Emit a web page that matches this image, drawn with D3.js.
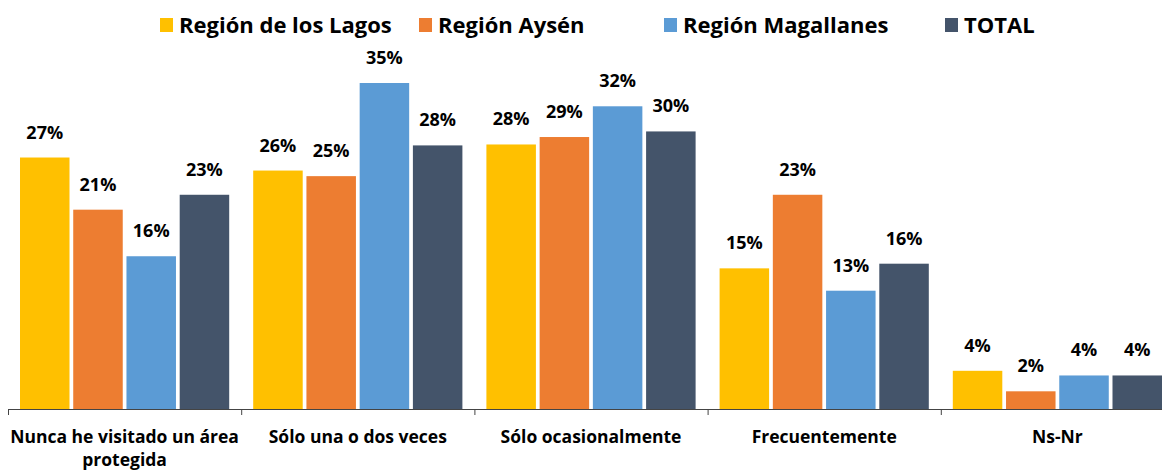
<!DOCTYPE html>
<html>
<head>
  <script src="https://cdn.jsdelivr.net/npm/d3@7"></script>
  <style>
    body { margin: 0; background: #fff; font-family: "Open Sans", Lato, sans-serif; }
  </style>
</head>
<body>
  <div id="chart"></div>
  <script>
    const categories = [
      ["Nunca he visitado un área", "protegida"],
      ["Sólo una o dos veces"],
      ["Sólo ocasionalmente"],
      ["Frecuentemente"],
      ["Ns-Nr"]
    ];
    const seriesNames = ["Región de los Lagos", "Región Aysén", "Región Magallanes", "TOTAL"];
    const colors = ["#FFC000", "#ED7D31", "#5B9BD5", "#44546A"];

    const lagos      = [27.0, 25.6, 28.4, 15.1, 4.1];
    const aysen      = [21.4, 25.0, 29.2, 23.0, 1.9];
    const magallanes = [16.4, 35.0, 32.5, 12.7, 3.6];
    const total      = [23.0, 28.3, 29.8, 15.6, 3.6];

    const lagosLabels      = ["27%", "26%", "28%", "15%", "4%"];
    const aysenLabels      = ["21%", "25%", "29%", "23%", "2%"];
    const magallanesLabels = ["16%", "35%", "32%", "13%", "4%"];
    const totalLabels      = ["23%", "28%", "30%", "16%", "4%"];

    const values = [lagos, aysen, magallanes, total];
    const labels = [lagosLabels, aysenLabels, magallanesLabels, totalLabels];

    const W = 1162, H = 470;
    const baseY = 409;

    const svg = d3.select("#chart").append("svg")
      .attr("width", W).attr("height", H);

    const x0 = d3.scaleBand()
      .domain(d3.range(categories.length))
      .range([8, 1174]);
    const x1 = d3.scaleBand()
      .domain(d3.range(seriesNames.length))
      .range([12, x0.bandwidth() - 12])
      .paddingInner(0.07);
    const y = d3.scaleLinear()
      .domain([0, 35])
      .range([baseY, 83]);

    // bars + labels
    values.forEach((vals, s) => {
      const g = svg.append("g");
      g.selectAll("rect")
        .data(vals)
        .join("rect")
          .attr("x", (d, i) => x0(i) + x1(s))
          .attr("y", d => y(d))
          .attr("width", x1.bandwidth())
          .attr("height", d => baseY - y(d))
          .attr("fill", colors[s]);
      g.selectAll("text")
        .data(vals)
        .join("text")
          .attr("x", (d, i) => x0(i) + x1(s) + x1.bandwidth() / 2)
          .attr("y", d => y(d) - 19)
          .attr("text-anchor", "middle")
          .attr("font-size", 18)
          .attr("font-weight", "bold")
          .attr("fill", "#000")
          .text((d, i) => labels[s][i]);
    });

    // x axis
    const axis = svg.append("g");
    axis.append("line")
      .attr("x1", 8).attr("x2", W)
      .attr("y1", baseY + 0.5).attr("y2", baseY + 0.5)
      .attr("stroke", "#444").attr("stroke-width", 1);
    axis.selectAll("line.tick")
      .data(d3.range(categories.length + 1))
      .join("line")
        .attr("class", "tick")
        .attr("x1", i => i < categories.length ? x0(i) + 0.5 : 1174)
        .attr("x2", i => i < categories.length ? x0(i) + 0.5 : 1174)
        .attr("y1", baseY).attr("y2", baseY + 6)
        .attr("stroke", "#444");
    const catText = axis.selectAll("text.cat")
      .data(categories)
      .join("text")
        .attr("class", "cat")
        .attr("x", (d, i) => x0(i) + x0.bandwidth() / 2)
        .attr("y", 443)
        .attr("text-anchor", "middle")
        .attr("font-size", 17.5)
        .attr("font-weight", "bold")
        .attr("fill", "#000");
    catText.selectAll("tspan")
      .data(d => d)
      .join("tspan")
        .attr("x", function () { return d3.select(this.parentNode).attr("x"); })
        .attr("dy", (d, j) => j === 0 ? 0 : 23)
        .text(d => d);

    // legend
    const legendX = [160, 419, 664, 945];
    const legend = svg.append("g");
    seriesNames.forEach((name, s) => {
      legend.append("rect")
        .attr("x", legendX[s]).attr("y", 18)
        .attr("width", 13).attr("height", 14)
        .attr("fill", colors[s]);
      legend.append("text")
        .attr("x", legendX[s] + 19).attr("y", 33)
        .attr("font-size", 22)
        .attr("font-weight", "bold")
        .attr("fill", "#000")
        .text(name);
    });
  </script>
</body>
</html>
